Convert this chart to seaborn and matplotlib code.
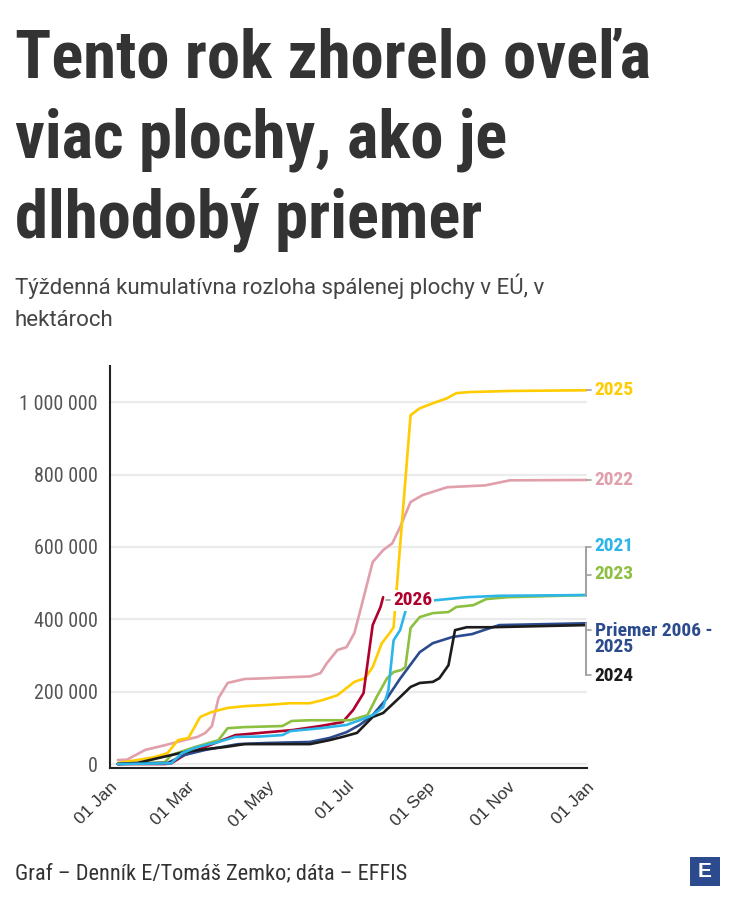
import pandas as pd
import numpy as np
import matplotlib
matplotlib.use("Agg")
import matplotlib.pyplot as plt
import matplotlib.dates as mdates
from matplotlib import font_manager
from matplotlib.ticker import FuncFormatter
from matplotlib.patches import Rectangle
import seaborn as sns

# Data (day of year, cumulative burnt area in thousands of ha)
days_2022 = [6, 13, 27, 42, 57, 67, 73, 78, 83, 90, 103, 119, 138, 153, 161, 166, 174, 181, 187, 191,
             201, 209, 216, 222, 230, 239, 258, 275, 287, 306, 365]
ha_2022 = [11, 12, 39, 52, 66, 75, 86, 105, 182, 224, 235, 237, 240, 242, 251, 279, 315, 323, 362, 417,
           558, 591, 610, 655, 724, 743, 765, 768, 770, 784, 785]

days_2025 = [6, 21, 34, 44, 52, 60, 69, 78, 90, 103, 119, 138, 153, 163, 174, 181, 187, 195, 201, 208,
             214, 217, 230, 237, 247, 258, 265, 275, 306, 365]
ha_2025 = [3, 11, 19, 30, 66, 72, 130, 144, 155, 160, 163, 168, 168, 177, 190, 210, 227, 237, 268, 334,
           362, 378, 964, 983, 997, 1011, 1025, 1028, 1031, 1033]

days_2021 = [6, 47, 55, 67, 83, 96, 115, 132, 138, 161, 181, 191, 201, 209, 213, 217, 222, 228, 250,
             273, 298, 365]
ha_2021 = [0, 2, 30, 47, 61, 75, 76, 80, 91, 99, 108, 121, 135, 157, 204, 342, 370, 447, 453,
           461, 465, 467]

days_2023 = [6, 42, 47, 65, 83, 90, 103, 132, 139, 153, 184, 197, 204, 212, 217, 223, 226, 230, 237,
             247, 259, 265, 278, 288, 304, 365]
ha_2023 = [0, 5, 25, 47, 66, 99, 102, 105, 119, 121, 121, 135, 185, 237, 254, 260, 268, 376, 406,
           417, 420, 434, 439, 456, 461, 467]

days_2026 = [6, 42, 47, 57, 96, 115, 140, 161, 178, 186, 194, 201, 207, 209]
ha_2026 = [0, 0, 2, 25, 80, 86, 94, 105, 116, 149, 196, 384, 434, 461]

days_2024 = [6, 21, 40, 57, 73, 88, 103, 153, 168, 178, 189, 201, 209, 222, 230, 237, 247, 252, 259,
             264, 273, 291, 365]
ha_2024 = [0, 3, 19, 33, 41, 47, 55, 55, 66, 75, 86, 130, 141, 185, 213, 224, 227, 237, 273,
           370, 378, 378, 384]

days_avg = [6, 44, 57, 73, 98, 119, 153, 168, 181, 191, 201, 212, 222, 237, 247, 262, 277, 291, 298, 365]
ha_avg = [0, 3, 25, 39, 55, 58, 61, 72, 88, 108, 135, 182, 236, 309, 334, 351, 359, 376, 384, 389]

series = {
    "2022": (days_2022, ha_2022),
    "2025": (days_2025, ha_2025),
    "2026": (days_2026, ha_2026),
    "2023": (days_2023, ha_2023),
    "Priemer 2006 - 2025": (days_avg, ha_avg),
    "2024": (days_2024, ha_2024),
    "2021": (days_2021, ha_2021),
}
colors = {
    "2022": "#e09fab",
    "2025": "#ffcc00",
    "2023": "#8dc040",
    "2021": "#2cb5e8",
    "Priemer 2006 - 2025": "#2c4b8e",
    "2024": "#1c1c1c",
    "2026": "#b0002c",
}

start = pd.Timestamp("2026-01-01")
end = pd.Timestamp("2027-01-01")
rows = []
for name, (d, v) in series.items():
    for di, vi in zip(d, v):
        rows.append({"rok": name, "datum": start + pd.Timedelta(days=di), "ha": vi * 1000})
df = pd.DataFrame(rows)

# Fonts
available = {f.name for f in font_manager.fontManager.ttflist}
def pick(*names):
    for n in names:
        if n in available:
            return n
    return "DejaVu Sans"
cond = pick("Roboto Condensed", "Liberation Sans Narrow", "Roboto")
regular = pick("Roboto", "DejaVu Sans")
arial = pick("Liberation Sans", "DejaVu Sans")

sns.set_style("white")
plt.rcParams["font.family"] = [regular, "DejaVu Sans"]

W, H = 734, 906
fig = plt.figure(figsize=(W / 100, H / 100), dpi=100)
fig.patch.set_facecolor("white")

def fx(px):
    return px / W

def fy(py):
    return 1 - py / H

ax = fig.add_axes([fx(110), fy(768), (587 - 110) / W, 402 / H])
sns.lineplot(data=df, x="datum", y="ha", hue="rok", hue_order=list(series.keys()),
             palette=colors, linewidth=1.9, legend=False, ax=ax, estimator=None, sort=True)

ax.set_xlim(start, end)
ax.set_ylim(-11000, 1100000)
ax.set_xlabel("")
ax.set_ylabel("")
ax.set_yticks([0, 200000, 400000, 600000, 800000, 1000000])
ax.yaxis.set_major_formatter(FuncFormatter(lambda v, p: f"{int(v):,}".replace(",", " ")))
ax.xaxis.set_major_locator(mdates.MonthLocator())

def month_fmt(x, pos):
    dt = mdates.num2date(x)
    return dt.strftime("%d %b") if dt.month % 2 == 1 else ""
ax.xaxis.set_major_formatter(FuncFormatter(month_fmt))

ax.grid(axis="y", color="#ebebeb", linewidth=1.6)
ax.grid(axis="x", visible=False)
for s in ["top", "right"]:
    ax.spines[s].set_visible(False)
for s in ["left", "bottom"]:
    ax.spines[s].set_color("#222222")
    ax.spines[s].set_linewidth(1.5)
ax.tick_params(axis="y", length=6, width=1.5, color="#222222", labelsize=14.5,
               labelcolor="#555555", pad=3)
ax.tick_params(axis="x", length=6, width=1.5, color="#222222", labelsize=12.5,
               labelcolor="#333333", pad=2)
for lab in ax.get_yticklabels():
    lab.set_family([cond, "DejaVu Sans"])
for lab in ax.get_xticklabels():
    lab.set_family([arial, "DejaVu Sans"])
    lab.set_rotation(45)
    lab.set_ha("right")
    lab.set_rotation_mode("anchor")

# Line labels on the right
lab_x = end + pd.Timedelta(days=6)
labels = [
    ("2025", 1033000),
    ("2022", 784000),
    ("2021", 602000),
    ("2023", 525000),
    ("Priemer 2006 -\n2025", 345000),
    ("2024", 243000),
]
for text, yv in labels:
    key = "Priemer 2006 - 2025" if text.startswith("Priemer") else text
    ax.text(lab_x, yv, text, color=colors[key], fontsize=14, fontweight="bold",
            family=[cond, "DejaVu Sans"], va="center", ha="left", clip_on=False,
            linespacing=0.9)

grey = "#a0a0a0"
x0 = end - pd.Timedelta(days=1)
x1 = end + pd.Timedelta(days=3)
for yv in [1033000, 785000]:
    ax.plot([end, x1], [yv, yv], color=grey, lw=1.2, clip_on=False)
ax.plot([x0, x0], [599000, 464000], color=grey, lw=1.4, clip_on=False)
ax.plot([x0, x1], [599000, 599000], color=grey, lw=1.2, clip_on=False)
ax.plot([x0, x1], [522000, 522000], color=grey, lw=1.2, clip_on=False)
ax.plot([x0, x0], [389000, 246000], color=grey, lw=1.4, clip_on=False)
ax.plot([x0, x1], [370000, 370000], color=grey, lw=1.2, clip_on=False)
ax.plot([x0, x1], [246000, 246000], color=grey, lw=1.2, clip_on=False)

d26 = start + pd.Timedelta(days=217)
ax.plot([start + pd.Timedelta(days=211), start + pd.Timedelta(days=214)], [452000, 452000],
        color=grey, lw=1.2)
ax.text(d26, 452000, "2026", color=colors["2026"], fontsize=14, fontweight="bold",
        family=[cond, "DejaVu Sans"], va="center", ha="left",
        bbox=dict(facecolor="white", edgecolor="none", pad=1))

# Title, subtitle, footer
for i, line in enumerate(["Tento rok zhorelo oveľa", "viac plochy, ako je", "dlhodobý priemer"]):
    fig.text(fx(15), fy(78 + 80 * i), line, fontsize=48, fontweight="bold", color="#333333",
             family=[cond, "DejaVu Sans"], va="baseline", ha="left")
fig.text(fx(15), fy(294), "Týždenná kumulatívna rozloha spálenej plochy v EÚ, v", fontsize=16,
         color="#444444", va="baseline", ha="left")
fig.text(fx(15), fy(326), "hektároch", fontsize=16, color="#444444", va="baseline", ha="left")
fig.text(fx(15), fy(879), "Graf – Denník E/Tomáš Zemko; dáta – EFFIS", fontsize=16,
         color="#333333", family=[cond, "DejaVu Sans"], va="baseline", ha="left")

fig.patches.append(Rectangle((fx(690), fy(886)), 30 / W, 29 / H, transform=fig.transFigure,
                             facecolor="#2c4b8e", edgecolor="none"))
fig.text(fx(705), fy(871.5), "E", fontsize=15, fontweight="bold", color="white",
         va="center", ha="center", family=[arial, "DejaVu Sans"])

fig.savefig("out.png", dpi=100, facecolor="white")
